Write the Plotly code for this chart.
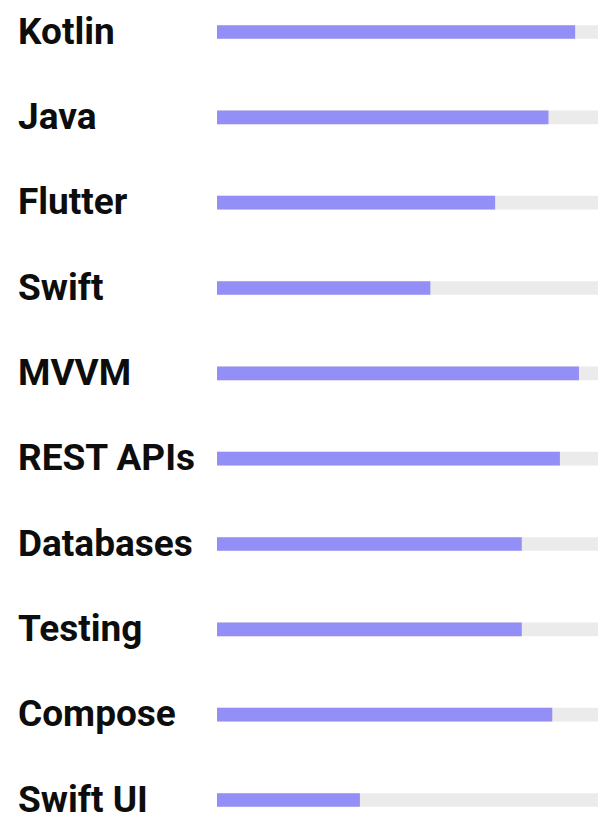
import plotly.graph_objects as go

skills = ["Kotlin", "Java", "Flutter", "Swift", "MVVM", "REST APIs",
          "Databases", "Testing", "Compose", "Swift UI"]
levels = [94, 87, 73, 56, 95, 90, 80, 80, 88, 37.5]
max_level = [100] * len(skills)

BAR = "#948FF6"
TRACK = "#EBEBEB"

W, H = 598, 828

fig = go.Figure()
fig.add_trace(go.Bar(x=max_level, y=skills, orientation="h", width=0.16,
                     marker=dict(color=TRACK, line=dict(width=0)),
                     hoverinfo="skip", showlegend=False))
fig.add_trace(go.Bar(x=levels, y=skills, orientation="h", width=0.16,
                     marker=dict(color=BAR, line=dict(width=0)),
                     showlegend=False))

for s in skills:
    fig.add_annotation(x=16 / W, xref="paper", xanchor="left",
                       y=s, yref="y", yanchor="middle", yshift=1,
                       text=s, showarrow=False,
                       font=dict(family="Roboto", size=37, color="#0d0d0d",
                                 weight="bold"))

# rows centred at 32px .. 800px, 85.33px apart
fig.update_layout(
    width=W, height=H,
    margin=dict(l=0, r=0, t=0, b=0),
    barmode="overlay",
    paper_bgcolor="white", plot_bgcolor="white",
    xaxis=dict(domain=[217 / W, 1], range=[0, 100], visible=False,
               fixedrange=True),
    yaxis=dict(type="category", categoryorder="array", categoryarray=skills,
               range=[9 + 28 / 85.33, -32 / 85.33], visible=False,
               fixedrange=True),
)

fig.write_html(
    "out.html",
    config={"displayModeBar": False},
    post_script="document.body.style.margin='0';document.body.style.overflow='hidden';",
)
